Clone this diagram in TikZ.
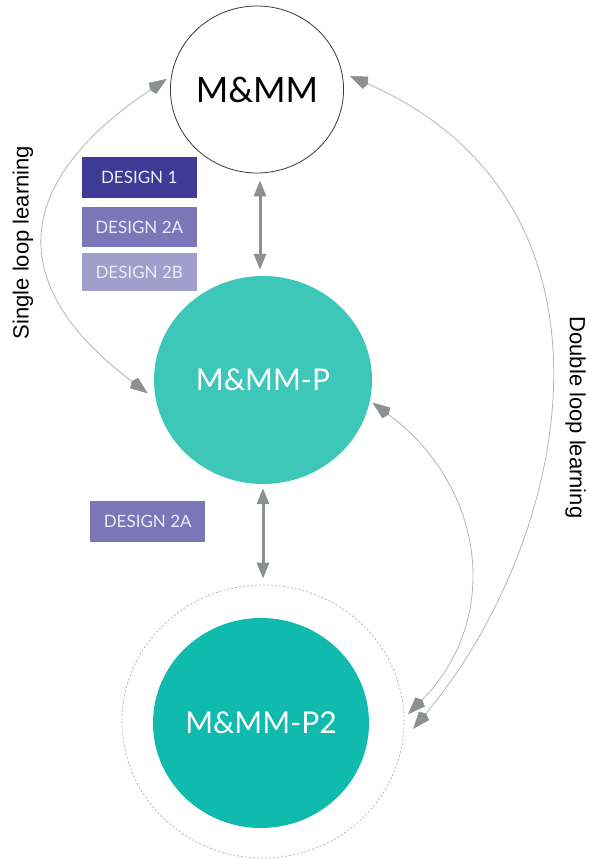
\documentclass[tikz,border=0pt]{standalone}
\usepackage{fontspec}
\setmainfont{Lato}
\newfontfamily\labelfont{Liberation Sans}
\usetikzlibrary{arrows.meta,shapes.geometric}

\definecolor{ringgray}{HTML}{AEAEAE}
\definecolor{arrowgray}{HTML}{8D9090}
\definecolor{curvegray}{HTML}{B4B4B4}
\definecolor{outline}{HTML}{3A3A3A}
\definecolor{tealmid}{HTML}{3DC7B9}
\definecolor{tealdark}{HTML}{10BAAD}
\definecolor{designone}{HTML}{3F3A96}
\definecolor{designtwoa}{HTML}{7C76B8}
\definecolor{designtwob}{HTML}{A39DCC}
\definecolor{boxtext}{HTML}{EDEBF6}

\tikzset{
  blob/.style={ellipse, inner sep=0pt, text=white, font=\fontsize{30}{30}\selectfont},
  designbox/.style={rectangle, inner sep=0pt, minimum width=115pt, text=boxtext,
    font=\fontsize{17}{17}\selectfont},
  thickarrow/.style={draw=arrowgray, line width=3pt,
    {Triangle[length=16pt,width=12pt]}-{Triangle[length=16pt,width=12pt]}},
  loopcurve/.style={draw=curvegray, line width=0.8pt,
    {Stealth[length=17pt,width=13pt,inset=-3pt,fill=arrowgray,color=arrowgray,line width=0.5pt]}-{Stealth[length=17pt,width=13pt,inset=-3pt,fill=arrowgray,color=arrowgray,line width=0.5pt]}},
  sidelabel/.style={font=\labelfont\fontsize{22}{22}\selectfont, inner sep=0pt}
}

\begin{document}
\begin{tikzpicture}[x=1pt, y=-1pt]
  \useasboundingbox (0,0) rectangle (589,859);

  % circles
  \node[ellipse, draw=outline, line width=0.8pt, fill=white, minimum width=171pt,
        minimum height=167pt, inner sep=0pt, font=\fontsize{35}{35}\selectfont]
        (top) at (257,89.5) {M\&MM};
  \node[blob, fill=tealmid, minimum width=218pt, minimum height=208pt]
        (mid) at (263,380) {M\&MM-P};
  \node[ellipse, draw=ringgray, line width=0.7pt, dash pattern=on 2pt off 2pt,
        minimum width=282pt, minimum height=273pt, inner sep=0pt]
        (ring) at (263,721.5) {};
  \node[blob, fill=tealdark, minimum width=216pt, minimum height=210pt]
        (low) at (261,723) {M\&MM-P2};

  % design labels
  \node[designbox, fill=designone, minimum height=41pt] (d1) at (139.2,177.5) {DESIGN 1};
  \node[designbox, fill=designtwoa, minimum height=40pt] (d2a) at (139.2,227) {DESIGN 2A};
  \node[designbox, fill=designtwob, minimum height=38pt] (d2b) at (139.2,272.3) {DESIGN 2B};
  \node[designbox, fill=designtwoa, minimum height=41pt] (d2c) at (147.7,521.2) {DESIGN 2A};

  % side labels
  \node[sidelabel, rotate=90] (single) at (23,242.5) {Single loop learning};
  \node[sidelabel, rotate=-90] (double) at (575.5,417.5) {Double loop learning};

  % vertical links
  \draw[thickarrow, shorten <=7pt, shorten >=6pt]
    ([xshift=3pt]top.south) -- ([xshift=-3pt]mid.north);
  \draw[thickarrow, shorten <=4pt, shorten >=6pt]
    (mid.south) -- (ring.north);

  % single loop
  \draw[loopcurve]
    ([xshift=-7pt]mid.187) .. controls (0,282) and (16,180) .. ([xshift=-4pt]top.173);
  % double loop, outer
  \draw[loopcurve]
    ([xshift=7pt]top.9) .. controls (639,203) and (573,537) .. ([xshift=9pt]ring.-3);
  % double loop, inner
  \draw[loopcurve]
    ([xshift=3pt]mid.-12.6) .. controls (487,488) and (501,620) .. ([xshift=4pt]ring.3);
\end{tikzpicture}
\end{document}
